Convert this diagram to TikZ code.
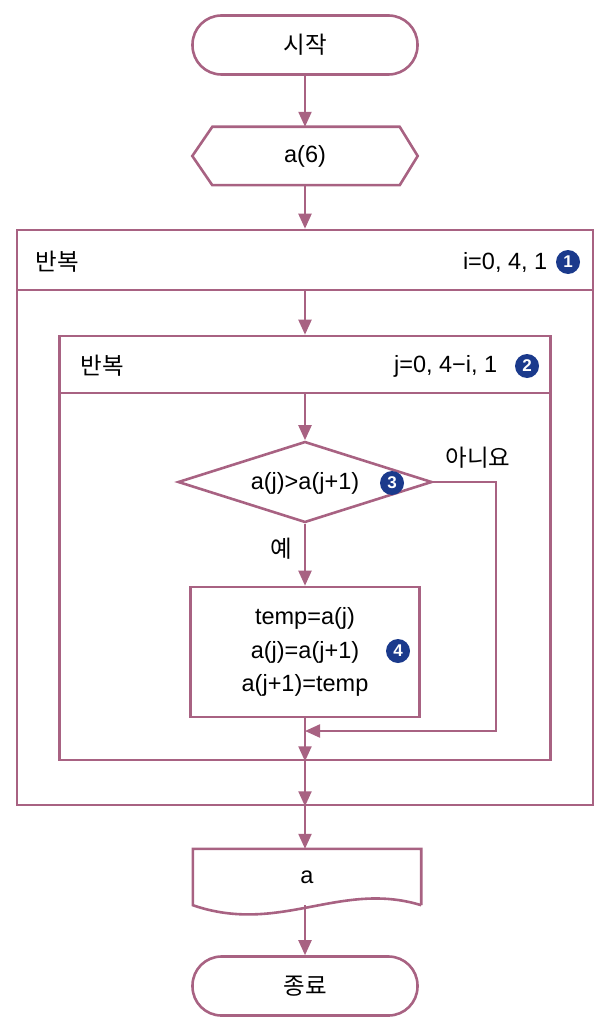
\documentclass[tikz,border=0pt]{standalone}
\usepackage{fontspec}
\setmainfont{Liberation Sans}
\newfontfamily\kr{Noto Sans CJK KR}
\usetikzlibrary{shapes.geometric,arrows.meta,positioning}
\definecolor{flow}{RGB}{168,98,130}
\definecolor{badge}{RGB}{27,58,140}
\begin{document}
\begin{tikzpicture}[x=1pt,y=-1pt,
    font=\fontsize{23.5}{27}\selectfont,
    box/.style={draw=flow,line width=2.6pt,inner sep=0pt},
    term/.style={box,rounded corners=29pt,minimum width=225pt,minimum height=59pt},
    conn/.style={draw=flow,line width=2.2pt,-{Triangle[width=13pt,length=15pt]}},
    num/.style={circle,fill=badge,text=white,inner sep=0pt,minimum size=24pt,
                font=\bfseries\fontsize{17}{17}\selectfont}]
   \useasboundingbox (0,0) rectangle (611,1027);
   % start and input
   \node[term] (start) at (305,45) {\kr 시작};
   \node[inner sep=0pt,minimum width=225pt,minimum height=58pt] (a6) at (305,156) {a(6)};
   \draw[box] (a6.west) -- ([xshift=20pt]a6.north west) -- ([xshift=-18pt]a6.north east)
     -- (a6.east) -- ([xshift=-18pt]a6.south east) -- ([xshift=20pt]a6.south west) -- cycle;
   % outer loop
   \node[box,minimum width=576pt,minimum height=60pt] (outerhead) at (305,260) {};
   \node[box,minimum width=576pt,minimum height=515pt] (outerbody) at (305,547.5) {};
   \node[anchor=west] (outerlbl) at (32,262) {\kr 반복};
   \node[num] (n1) at (568,262) {1};
   \node[left=5pt of n1] (outerrng) {i=0, 4, 1};
   % inner loop
   \node[box,minimum width=491pt,minimum height=57pt] (innerhead) at (305,364.5) {};
   \node[box,minimum width=491pt,minimum height=367pt] (innerbody) at (305,576.5) {};
   \node[anchor=west] (innerlbl) at (77,366) {\kr 반복};
   \node[num] (n2) at (527,366) {2};
   \node[left=14pt of n2] (innerrng) {j=0, 4−i, 1};
   % compare and swap
   \node[box,diamond,minimum width=254pt,minimum height=81pt] (cmp) at (305,482) {};
   \node (cmptxt) at (305,483) {a(j)>a(j+1)};
   \node[num] (n3) at (392,483) {3};
   \node (no) at (478,458) {\kr 아니요};
   \node (yes) at (281,549) {\kr 예};
   \node[box,minimum width=229pt,minimum height=130pt,align=center,
         font=\fontsize{23.5}{33.5}\selectfont] (swap) at (305,652)
         {temp=a(j)\\a(j)=a(j+1)\\a(j+1)=temp};
   \node[num] (n4) at (398,651) {4};
   \coordinate (merge) at (305,731);
   % output and end
   \node[inner sep=0pt,minimum width=228pt,minimum height=56pt] (out) at (307,877) {a};
   \draw[box] (out.south east) -- (out.north east) -- (out.north west) -- (out.south west)
     .. controls +(87,30) and +(-81,-25) .. (out.south east);
   \node[term] (finish) at (305,986) {\kr 종료};
   % connectors
   \draw[conn] (start) -- (a6);
   \draw[conn] (a6.south) -- (outerhead.north);
   \draw[conn] (outerhead.south) -- (innerhead.north);
   \draw[conn] (innerhead.south) -- (cmp.north);
   \draw[conn] (cmp.south) -- (swap.north);
   \draw[conn] (cmp.east) -- ++(63,0) |- (merge);
   \draw[conn] (swap.south) -- (innerbody.south);
   \draw[conn] (innerbody.south) -- (outerbody.south);
   \draw[conn] (outerbody.south) -- (out.north -| outerbody.south);
   \draw[conn] (out.south -| finish.north) -- (finish.north);
\end{tikzpicture}
\end{document}
